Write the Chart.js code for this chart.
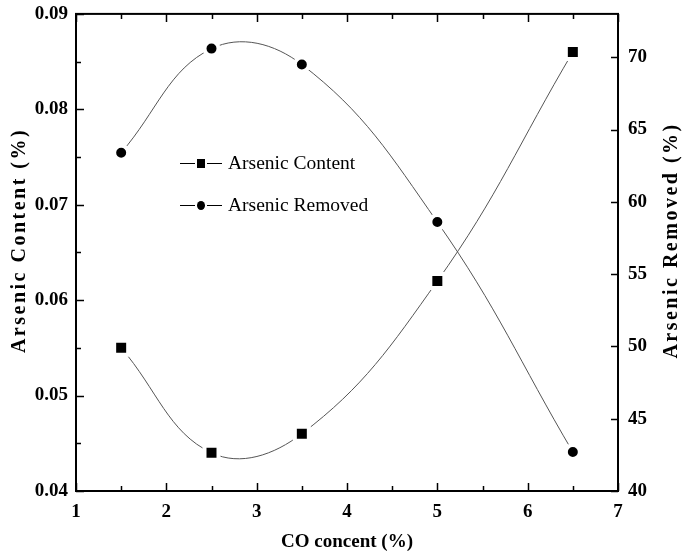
<!DOCTYPE html>
<html>
<head>
<meta charset="utf-8">
<script src="https://cdn.jsdelivr.net/npm/chart.js@4.4.1/dist/chart.umd.min.js"></script>
<style>
  html, body { margin: 0; padding: 0; background: #fff; }
</style>
</head>
<body>
<canvas id="grafico" width="685" height="560"></canvas>
<script>
// datos
const coConcent = [1.5, 2.5, 3.5, 5, 6.5];
const arsenicContent = [0.055, 0.044, 0.046, 0.062, 0.086];
const arsenicRemoved = [63.4, 70.6, 69.5, 58.6, 42.7];

const xTicks = [1, 2, 3, 4, 5, 6, 7];
const leftTicks = [0.04, 0.05, 0.06, 0.07, 0.08, 0.09];
const rightTicks = [40, 45, 50, 55, 60, 65, 70];

const serif = '"Liberation Serif", "Times New Roman", serif';
const tickFont = { family: serif, size: 19, weight: 'bold' };

// tamaño fijo de cada eje, sin relleno extra por las etiquetas
function fijar(w, h) {
  return s => {
    if (w) s.width = w;
    if (h) s.height = h;
    s.paddingTop = 0; s.paddingBottom = 0;
    s.paddingLeft = 0; s.paddingRight = 0;
  };
}

// marco, marcas menores, titulos y leyenda
const marco = {
  id: 'marco',
  afterDraw(chart) {
    const ctx = chart.ctx;
    const a = chart.chartArea;
    const sx = chart.scales.x, sy = chart.scales.y, sy1 = chart.scales.y1;
    ctx.save();
    ctx.strokeStyle = '#000';
    ctx.lineWidth = 2;
    ctx.strokeRect(a.left, a.top, a.right - a.left, a.bottom - a.top);

    ctx.lineWidth = 1.5;
    ctx.beginPath();
    // eje x (abajo y arriba)
    for (let v = xTicks[0]; v <= xTicks[xTicks.length - 1] + 1e-9; v += 0.5) {
      const px = Math.round(sx.getPixelForValue(v)) + 0.5;
      const len = Number.isInteger(v) ? 8 : 5;
      ctx.moveTo(px, a.bottom); ctx.lineTo(px, a.bottom - len);
      ctx.moveTo(px, a.top); ctx.lineTo(px, a.top + len);
    }
    // eje izquierdo
    for (let i = 0; i <= 10; i++) {
      const v = leftTicks[0] + i * 0.005;
      const py = Math.round(sy.getPixelForValue(v)) + 0.5;
      const len = i % 2 === 0 ? 8 : 5;
      ctx.moveTo(a.left, py); ctx.lineTo(a.left + len, py);
    }
    // eje derecho
    rightTicks.forEach(v => {
      const py = Math.round(sy1.getPixelForValue(v)) + 0.5;
      ctx.moveTo(a.right, py); ctx.lineTo(a.right - 7, py);
    });
    ctx.stroke();

    // titulos
    ctx.fillStyle = '#000';
    ctx.font = 'bold 19px ' + serif;
    ctx.textAlign = 'center';
    ctx.textBaseline = 'middle';
    ctx.fillText('CO concent (%)', (a.left + a.right) / 2, 542);

    const midY = (a.top + a.bottom) / 2;
    ctx.font = 'bold 20px ' + serif;
    if ('letterSpacing' in ctx) ctx.letterSpacing = '2.5px';
    ctx.save();
    ctx.translate(20, midY - 12);
    ctx.rotate(-Math.PI / 2);
    ctx.fillText('Arsenic Content (%)', 0, 0);
    ctx.restore();
    ctx.save();
    ctx.translate(672, midY - 12);
    ctx.rotate(-Math.PI / 2);
    ctx.fillText('Arsenic Removed (%)', 0, 0);
    ctx.restore();
    if ('letterSpacing' in ctx) ctx.letterSpacing = '0px';

    // leyenda
    const filas = [
      { y: 163, label: 'Arsenic Content', tipo: 'rect' },
      { y: 205, label: 'Arsenic Removed', tipo: 'circle' }
    ];
    ctx.font = '19.5px ' + serif;
    ctx.textAlign = 'left';
    filas.forEach(f => {
      ctx.strokeStyle = '#000';
      ctx.lineWidth = 1;
      ctx.beginPath();
      ctx.moveTo(180, f.y + 0.5); ctx.lineTo(195, f.y + 0.5);
      ctx.moveTo(207, f.y + 0.5); ctx.lineTo(222, f.y + 0.5);
      ctx.stroke();
      ctx.beginPath();
      if (f.tipo === 'rect') {
        ctx.rect(197, f.y - 4, 8, 9);
      } else {
        ctx.ellipse(201, f.y + 0.5, 4, 4.5, 0, 0, Math.PI * 2);
      }
      ctx.fill();
      ctx.fillText(f.label, 228, f.y + 1);
    });
    ctx.restore();
  }
};

const ctx = document.getElementById('grafico').getContext('2d');
const grafico = new Chart(ctx, {
  type: 'line',
  data: {
    datasets: [{
      label: 'Arsenic Content',
      data: coConcent.map((x, i) => ({ x: x, y: arsenicContent[i] })),
      yAxisID: 'y',
      borderColor: '#555',
      borderWidth: 1,
      tension: 0.4,
      pointStyle: 'rect',
      pointRadius: 9.9,
      pointBackgroundColor: '#000',
      pointBorderColor: '#fff',
      pointBorderWidth: 4
    }, {
      label: 'Arsenic Removed',
      data: coConcent.map((x, i) => ({ x: x, y: arsenicRemoved[i] })),
      yAxisID: 'y1',
      borderColor: '#555',
      borderWidth: 1,
      tension: 0.4,
      pointStyle: 'circle',
      pointRadius: 7,
      pointBackgroundColor: '#000',
      pointBorderColor: '#fff',
      pointBorderWidth: 4
    }]
  },
  options: {
    responsive: false,
    animation: false,
    layout: { padding: { top: 12, left: 0, right: 0, bottom: 0 } },
    plugins: { legend: { display: false }, tooltip: { enabled: false } },
    scales: {
      x: {
        type: 'linear', min: 1, max: 7,
        afterFit: fijar(0, 69),
        afterBuildTicks: s => { s.ticks = xTicks.map(v => ({ value: v })); },
        grid: { display: false, drawTicks: false },
        border: { display: false },
        ticks: { padding: 10, color: '#000', font: tickFont, maxRotation: 0, autoSkip: false }
      },
      y: {
        position: 'left', min: 0.04, max: 0.09,
        afterFit: fijar(76, 0),
        afterBuildTicks: s => { s.ticks = leftTicks.map(v => ({ value: v })); },
        grid: { display: false, drawTicks: false },
        border: { display: false },
        ticks: { padding: 8, color: '#000', font: tickFont, callback: v => v.toFixed(2) }
      },
      y1: {
        position: 'right', min: 40, max: 73,
        afterFit: fijar(67, 0),
        afterBuildTicks: s => { s.ticks = rightTicks.map(v => ({ value: v })); },
        grid: { display: false, drawTicks: false },
        border: { display: false },
        ticks: { padding: 10, color: '#000', font: tickFont }
      }
    }
  },
  plugins: [marco]
});
</script>
</body>
</html>
